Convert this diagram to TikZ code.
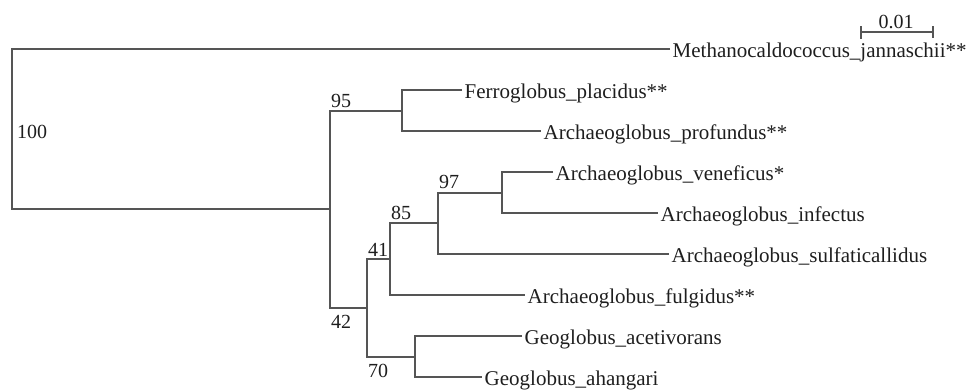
\documentclass[tikz,border=0pt]{standalone}
\usepackage{fontspec}
\setmainfont{Liberation Serif}
\definecolor{branchgray}{HTML}{555555}
\definecolor{textdark}{HTML}{1E1E1E}
\begin{document}
\begin{tikzpicture}[x=1pt,y=-1pt,
  branch/.style={draw=branchgray,line width=1.5pt},
  taxon/.style={anchor=base west,inner sep=0pt,text=textdark,font=\fontsize{21}{24}\selectfont},
  boot/.style={anchor=base west,inner sep=0pt,text=textdark,font=\fontsize{20}{24}\selectfont}]
\useasboundingbox (0,0) rectangle (969,389);
% internal nodes
\coordinate (root) at (12,129);
\coordinate (in) at (330,209);
\coordinate (n95) at (402,111);
\coordinate (n42) at (367,308);
\coordinate (n41) at (390,259);
\coordinate (n85) at (438,223);
\coordinate (n97) at (502,193);
\coordinate (n70) at (415,357);
% tip ends
\coordinate (tmeth) at (670,49);
\coordinate (tferro) at (462,90);
\coordinate (tprof) at (541,131);
\coordinate (tven) at (553,172);
\coordinate (tinf) at (658,213);
\coordinate (tsulf) at (669,254);
\coordinate (tfulg) at (525,295);
\coordinate (tacet) at (522,336);
\coordinate (tahan) at (482,377);
% taxa
\node[taxon] (meth) at ([xshift=2.5pt,yshift=-8.5pt]tmeth) {Methanocaldococcus\_jannaschii**};
\node[taxon] (ferro) at ([xshift=2.5pt,yshift=-8.5pt]tferro) {Ferroglobus\_placidus**};
\node[taxon] (prof) at ([xshift=2.5pt,yshift=-8.5pt]tprof) {Archaeoglobus\_profundus**};
\node[taxon] (ven) at ([xshift=2.5pt,yshift=-8.5pt]tven) {Archaeoglobus\_veneficus*};
\node[taxon] (inf) at ([xshift=2.5pt,yshift=-8.5pt]tinf) {Archaeoglobus\_infectus};
\node[taxon] (sulf) at ([xshift=2.5pt,yshift=-8.5pt]tsulf) {Archaeoglobus\_sulfaticallidus};
\node[taxon] (fulg) at ([xshift=2.5pt,yshift=-8.5pt]tfulg) {Archaeoglobus\_fulgidus**};
\node[taxon] (acet) at ([xshift=2.5pt,yshift=-8.5pt]tacet) {Geoglobus\_acetivorans};
\node[taxon] (ahan) at ([xshift=2.5pt,yshift=-8.5pt]tahan) {Geoglobus\_ahangari};
% branches
\draw[branch] (tmeth) -| (root) |- (in);
\draw[branch] (n95) -| (in) |- (n42);
\draw[branch] (tferro) -| (n95) |- (tprof);
\draw[branch] (n41) -| (n42) |- (n70);
\draw[branch] (n85) -| (n41) |- (tfulg);
\draw[branch] (n97) -| (n85) |- (tsulf);
\draw[branch] (tven) -| (n97) |- (tinf);
\draw[branch] (tacet) -| (n70) |- (tahan);
% bootstrap values
\node[boot] (b100) at (17,138) {100};
\node[boot] (b95) at (331,107) {95};
\node[boot] (b97) at (439,188) {97};
\node[boot] (b85) at (391,219) {85};
\node[boot] (b41) at (368,256) {41};
\node[boot] (b42) at (331,328) {42};
\node[boot] (b70) at (368,377) {70};
% scale bar
\coordinate (sbl) at (861,32);
\coordinate (sbr) at (933,32);
\draw[branch,line width=1.2pt] (sbl) -- (sbr);
\draw[branch,line width=1.2pt] ([yshift=6pt]sbl) -- ([yshift=-7pt]sbl);
\draw[branch,line width=1.2pt] ([yshift=6pt]sbr) -- ([yshift=-6pt]sbr);
\node[boot,anchor=base] (sblab) at (896,28) {0.01};
\end{tikzpicture}
\end{document}
